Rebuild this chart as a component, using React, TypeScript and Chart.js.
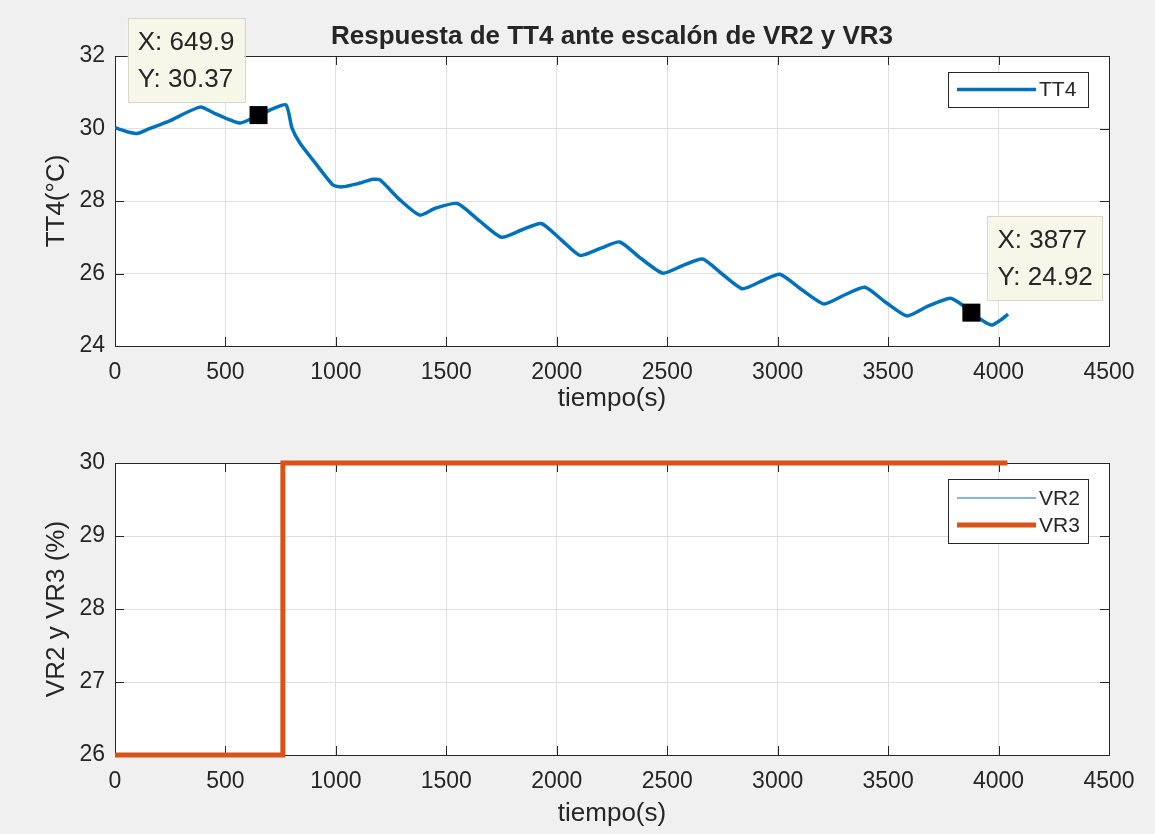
import React, { useEffect, useRef } from "react";
import { Chart, registerables } from "chart.js";

Chart.register(...registerables);

// TT4 temperature record (time in s, value in °C)
const timeTT4 = [
  0, 50, 100, 150, 250, 385, 450, 566, 649.9, 702, 774, 801, 837, 900, 987, 1028,
  1100, 1168, 1200, 1290, 1380, 1450, 1550, 1650, 1750, 1840, 1930, 2020, 2105,
  2200, 2285, 2380, 2480, 2570, 2660, 2750, 2840, 2930, 3010, 3110, 3210, 3300,
  3395, 3490, 3585, 3680, 3780, 3825, 3877, 3938, 3970, 4010, 4043,
];
const valuesTT4 = [
  30.02, 29.92, 29.86, 29.98, 30.22, 30.59, 30.42, 30.15, 30.37, 30.51, 30.65, 30.02,
  29.6, 29.1, 28.44, 28.39, 28.48, 28.6, 28.58, 28.03, 27.61, 27.8, 27.93, 27.45, 27.0,
  27.2, 27.38, 26.93, 26.5, 26.7, 26.87, 26.42, 26.01, 26.22, 26.4, 25.98, 25.58, 25.8,
  25.98, 25.55, 25.16, 25.4, 25.62, 25.2, 24.83, 25.1, 25.32, 25.18, 24.92, 24.66,
  24.58, 24.72, 24.88,
];

// Valve openings (%)
const timeValves = [0, 760, 760, 4040];
const valuesVR2 = [26, 26, 30, 30];
const valuesVR3 = [26, 26, 30, 30];

// Data cursors on TT4
const tipTimes = [649.9, 3877];
const tipValues = [30.37, 24.92];

const FONT = '"Liberation Sans", Arial, Helvetica, sans-serif';
const INK = "#262626";
const GRID = "#dfdfdf";
const BLUE = "#0072BD";
const ORANGE = "#D95319";

const toPoints = (xs: number[], ys: number[]) => xs.map((x, i) => ({ x, y: ys[i] }));
const sig4 = (v: number) => String(Number(v.toPrecision(4)));

type LegendItem = { label: string; color: string; width: number };
type Tip = { t: number; v: number; side: "left" | "right" };
type Deco = {
  title?: string;
  titleY?: number;
  yLabel: string;
  xLabelY: number;
  legend: LegendItem[];
  tips: Tip[];
};

function decorations(cfg: Deco) {
  return {
    id: "axesDecorations",
    beforeDraw(chart: any) {
      const { ctx, chartArea: a } = chart;
      ctx.save();
      ctx.fillStyle = "#ffffff";
      ctx.fillRect(a.left, a.top, a.right - a.left, a.bottom - a.top);
      ctx.restore();
    },
    beforeDatasetsDraw(chart: any) {
      const { ctx, chartArea: a } = chart;
      const xs = chart.scales.x;
      const ys = chart.scales.y;
      const tl = 9;
      ctx.save();
      ctx.strokeStyle = INK;
      ctx.lineWidth = 1;
      ctx.beginPath();
      xs.ticks.forEach((t: any) => {
        const px = Math.round(xs.getPixelForValue(t.value)) + 0.5;
        ctx.moveTo(px, a.bottom);
        ctx.lineTo(px, a.bottom - tl);
        ctx.moveTo(px, a.top);
        ctx.lineTo(px, a.top + tl);
      });
      ys.ticks.forEach((t: any) => {
        const py = Math.round(ys.getPixelForValue(t.value)) + 0.5;
        ctx.moveTo(a.left, py);
        ctx.lineTo(a.left + tl, py);
        ctx.moveTo(a.right, py);
        ctx.lineTo(a.right - tl, py);
      });
      ctx.stroke();
      ctx.strokeRect(
        Math.round(a.left) + 0.5,
        Math.round(a.top) + 0.5,
        Math.round(a.right - a.left),
        Math.round(a.bottom - a.top)
      );
      ctx.restore();
    },
    afterDraw(chart: any) {
      const { ctx, chartArea: a } = chart;
      const xs = chart.scales.x;
      const ys = chart.scales.y;
      const cx = (a.left + a.right) / 2;
      const cy = (a.top + a.bottom) / 2;
      ctx.save();
      ctx.fillStyle = INK;
      ctx.textBaseline = "middle";

      if (cfg.title) {
        ctx.font = `bold 26px ${FONT}`;
        ctx.textAlign = "center";
        ctx.fillText(cfg.title, cx, cfg.titleY ?? 38);
      }

      ctx.font = `26px ${FONT}`;
      ctx.textAlign = "center";
      ctx.fillText("tiempo(s)", cx, cfg.xLabelY);

      ctx.save();
      ctx.translate(57, cy);
      ctx.rotate(-Math.PI / 2);
      ctx.fillText(cfg.yLabel, 0, 0);
      ctx.restore();

      // legend
      const rowH = 27;
      const lw = 140;
      const lh = cfg.legend.length === 1 ? 35 : 64;
      const lx = a.right - 21 - lw;
      const ly = a.top + 16;
      ctx.fillStyle = "#ffffff";
      ctx.fillRect(lx, ly, lw, lh);
      ctx.strokeStyle = INK;
      ctx.lineWidth = 1;
      ctx.strokeRect(Math.round(lx) + 0.5, Math.round(ly) + 0.5, lw, lh);
      ctx.font = `21px ${FONT}`;
      ctx.textAlign = "left";
      cfg.legend.forEach((item, i) => {
        const ry = cfg.legend.length === 1 ? ly + lh / 2 : ly + 19 + i * rowH;
        ctx.strokeStyle = item.color;
        ctx.lineWidth = item.width;
        ctx.beginPath();
        ctx.moveTo(lx + 9, ry);
        ctx.lineTo(lx + 88, ry);
        ctx.stroke();
        ctx.fillStyle = INK;
        ctx.fillText(item.label, lx + 91, ry + 1);
      });

      // data cursors
      cfg.tips.forEach((tip) => {
        const px = xs.getPixelForValue(tip.t);
        const py = ys.getPixelForValue(tip.v);
        ctx.fillStyle = "#000000";
        ctx.fillRect(px - 9, py - 9, 18, 18);
        const lines = [`X: ${sig4(tip.t)}`, `Y: ${sig4(tip.v)}`];
        ctx.font = `26px ${FONT}`;
        const w = Math.max(...lines.map((l) => ctx.measureText(l).width)) + 20;
        const h = 84;
        const bx = tip.side === "left" ? px - 14 - w : px + 16;
        const by = py - 13 - h;
        ctx.fillStyle = "#f7f7e9";
        ctx.fillRect(bx, by, w, h);
        ctx.strokeStyle = "#d6d6c8";
        ctx.lineWidth = 1;
        ctx.strokeRect(Math.round(bx) + 0.5, Math.round(by) + 0.5, Math.round(w), h);
        ctx.fillStyle = INK;
        ctx.textAlign = "left";
        ctx.fillText(lines[0], bx + 10, by + 25);
        ctx.fillText(lines[1], bx + 10, by + 62);
      });
      ctx.restore();
    },
  };
}

function scalesFor(yMin: number, yMax: number, yStep: number, xAxisHeight: number) {
  const tickFont = { family: FONT, size: 23 };
  return {
    x: {
      type: "linear" as const,
      min: 0,
      max: 4500,
      ticks: {
        stepSize: 500,
        padding: 13,
        color: INK,
        font: tickFont,
        maxRotation: 0,
        autoSkip: false,
        callback: (v: any) => String(v),
      },
      grid: { color: GRID, lineWidth: 1, drawTicks: false },
      border: { display: false },
      afterFit: (s: any) => {
        s.height = xAxisHeight;
      },
    },
    y: {
      type: "linear" as const,
      min: yMin,
      max: yMax,
      ticks: {
        stepSize: yStep,
        padding: 10,
        color: INK,
        font: tickFont,
        callback: (v: any) => String(v),
      },
      grid: { color: GRID, lineWidth: 1, drawTicks: false },
      border: { display: false },
      afterFit: (s: any) => {
        s.width = 115;
      },
    },
  };
}

export default function App() {
  const topRef = useRef<HTMLCanvasElement>(null);
  const bottomRef = useRef<HTMLCanvasElement>(null);

  useEffect(() => {
    const top = new Chart(topRef.current!, {
      type: "line",
      data: {
        datasets: [
          {
            label: "TT4",
            data: toPoints(timeTT4, valuesTT4),
            borderColor: BLUE,
            borderWidth: 3.5,
            pointRadius: 0,
            fill: false,
            tension: 0.2,
          },
        ],
      },
      options: {
        responsive: false,
        animation: false,
        devicePixelRatio: 1,
        events: [],
        layout: { padding: { left: 0, right: 46, top: 56, bottom: 0 } },
        plugins: { legend: { display: false }, tooltip: { enabled: false } },
        scales: scalesFor(24, 32, 2, 71),
      },
      plugins: [
        decorations({
          title: "Respuesta de TT4 ante escalón de VR2 y VR3",
          titleY: 37,
          yLabel: "TT4(°C)",
          xLabelY: 399,
          legend: [{ label: "TT4", color: BLUE, width: 3.5 }],
          tips: [
            { t: tipTimes[0], v: tipValues[0], side: "left" },
            { t: tipTimes[1], v: tipValues[1], side: "right" },
          ],
        }),
      ],
    });

    const bottom = new Chart(bottomRef.current!, {
      type: "line",
      data: {
        datasets: [
          {
            label: "VR2",
            data: toPoints(timeValves, valuesVR2),
            borderColor: BLUE,
            borderWidth: 1,
            pointRadius: 0,
            fill: false,
            order: 1,
          },
          {
            label: "VR3",
            data: toPoints(timeValves, valuesVR3),
            borderColor: ORANGE,
            borderWidth: 5,
            pointRadius: 0,
            fill: false,
            order: 0,
            clip: 8,
          },
        ],
      },
      options: {
        responsive: false,
        animation: false,
        devicePixelRatio: 1,
        events: [],
        layout: { padding: { left: 0, right: 46, top: 46, bottom: 0 } },
        plugins: { legend: { display: false }, tooltip: { enabled: false } },
        scales: scalesFor(26, 30, 1, 79),
      },
      plugins: [
        decorations({
          yLabel: "VR2 y VR3 (%)",
          xLabelY: 397,
          legend: [
            { label: "VR2", color: BLUE, width: 1 },
            { label: "VR3", color: ORANGE, width: 5 },
          ],
          tips: [],
        }),
      ],
    });

    return () => {
      top.destroy();
      bottom.destroy();
    };
  }, []);

  return (
    <div
      style={{
        position: "absolute",
        left: 0,
        top: 0,
        width: 1155,
        height: 834,
        background: "#f0f0f0",
      }}
    >
      <canvas ref={topRef} width={1155} height={417} style={{ display: "block" }} />
      <canvas ref={bottomRef} width={1155} height={417} style={{ display: "block" }} />
    </div>
  );
}
